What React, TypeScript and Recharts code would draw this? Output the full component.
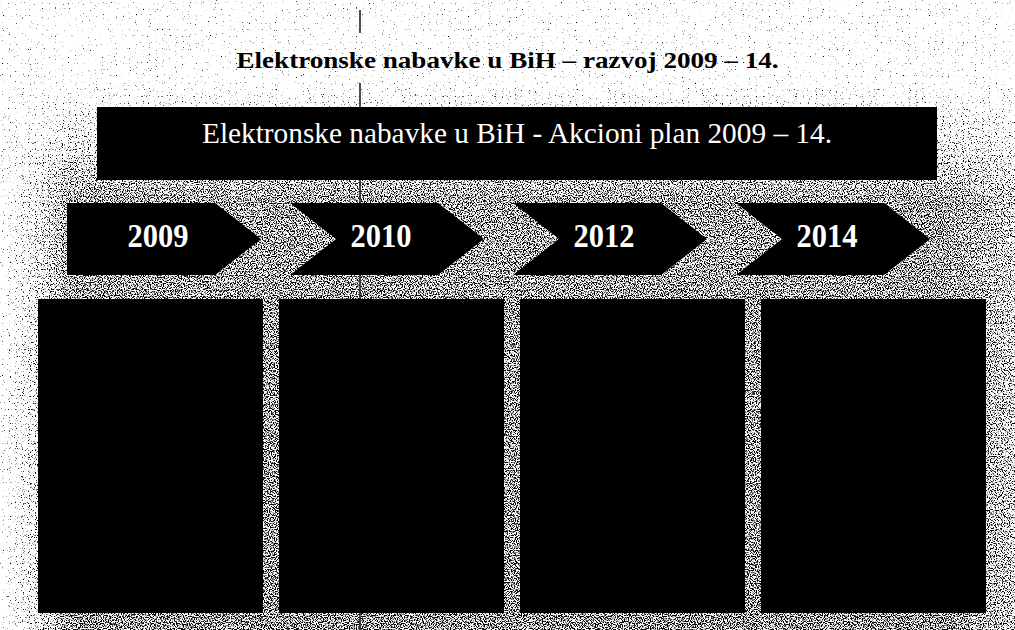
import { ComposedChart, Bar, XAxis, YAxis, ReferenceArea, ReferenceLine } from 'recharts';

// stages of the action plan, left to right
const years = ['2009', '2010', '2012', '2014'];
const chartTitle = 'Elektronske nabavke u BiH – razvoj 2009 – 14.';
const bannerText = 'Elektronske nabavke u BiH - Akcioni plan 2009 – 14.';

// layout rows in page pixels (y axis runs top -> bottom)
const ARROW_ROW: [number, number] = [203, 275];
const BOX_ROW: [number, number] = [299, 613];
const BANNER = { x1: 97, x2: 937, y1: 107, y2: 180 };
const TITLE_ROW = { y1: 48, y2: 74 };
// the scanner line running down the page, only visible in the gaps
const scanGaps: [number, number][] = [[10, 33], [83, 107], [180, 203], [275, 299], [613, 630]];

const W = 1015;
const H = 630;
const SERIF = '"Liberation Serif", "Times New Roman", serif';

const data = years.map((year) => ({ year, arrow: ARROW_ROW, box: BOX_ROW }));

const Chevron = (props: any) => {
  const { x, y, width, height, index, payload } = props;
  const top = Math.min(y, y + height);
  const h = Math.abs(height);
  const tip = 46;
  const mid = top + h / 2;
  const right = x + width;
  const pts: number[][] = [
    [x, top],
    [right - tip, top],
    [right, mid],
    [right - tip, top + h],
    [x, top + h],
  ];
  if (index > 0) pts.push([x + tip, mid]);
  return (
    <g>
      <polygon points={pts.map((p) => p.join(',')).join(' ')} fill="#000" />
      <text
        x={x + width / 2 - 6}
        y={mid + 8}
        textAnchor="middle"
        fill="#fff"
        fontFamily={SERIF}
        fontWeight="bold"
        fontSize={33}
        textLength={61}
        lengthAdjust="spacingAndGlyphs"
      >
        {payload.year}
      </text>
    </g>
  );
};

const Box = (props: any) => {
  const { x, y, width, height } = props;
  const top = Math.min(y, y + height);
  return <rect x={x} y={top} width={width} height={Math.abs(height)} fill="#000" />;
};

const AreaText = (props: any) => {
  const { viewBox, text, size, weight, length, color, dy } = props;
  if (!viewBox) return null;
  return (
    <text
      x={viewBox.x + viewBox.width / 2}
      y={viewBox.y + dy}
      textAnchor="middle"
      fill={color}
      fontFamily={SERIF}
      fontWeight={weight}
      fontSize={size}
      textLength={length}
      lengthAdjust="spacingAndGlyphs"
    >
      {text}
    </text>
  );
};

// scanned-paper grain behind the diagram
const Grain = () => (
  <svg width={W} height={H} style={{ position: 'absolute', left: 0, top: 0 }}>
    <defs>
      <filter id="grain" x="0" y="0" width={W} height={H} filterUnits="userSpaceOnUse" colorInterpolationFilters="sRGB">
        <feTurbulence type="fractalNoise" baseFrequency="0.85" numOctaves={1} seed={7} result="noise" />
        <feColorMatrix in="noise" type="matrix" values="0 0 0 0 0  0 0 0 0 0  0 0 0 0 0  1 0 0 0 0" result="n" />
        <feComposite in="SourceGraphic" in2="n" operator="arithmetic" k1={0} k2={8} k3={8} k4={-8} result="c" />
        <feColorMatrix in="c" type="matrix" values="0 0 0 0 0  0 0 0 0 0  0 0 0 0 0  0 0 0 1 0" />
      </filter>
      <linearGradient id="vfade" x1="0" y1="0" x2="0" y2="1">
        <stop offset="0" stopColor="#fff" stopOpacity={0} />
        <stop offset="0.22" stopColor="#fff" stopOpacity={0.3} />
        <stop offset="1" stopColor="#fff" stopOpacity={0.32} />
      </linearGradient>
      <linearGradient id="hfade" x1="0" y1="0" x2="1" y2="0">
        <stop offset="0" stopColor="#fff" stopOpacity={0} />
        <stop offset="0.035" stopColor="#fff" stopOpacity={0.5} />
        <stop offset="0.07" stopColor="#fff" stopOpacity={1} />
        <stop offset="0.93" stopColor="#fff" stopOpacity={1} />
        <stop offset="1" stopColor="#fff" stopOpacity={0.75} />
      </linearGradient>
      <mask id="hmask">
        <rect x={0} y={0} width={W} height={H} fill="url(#hfade)" />
      </mask>
    </defs>
    <rect x={0} y={0} width={W} height={H} fill="#fff" />
    <g filter="url(#grain)">
      <rect x={0} y={0} width={W} height={H} fill="#fff" fillOpacity={0.33} />
      <rect x={0} y={80} width={W} height={H - 80} fill="url(#vfade)" mask="url(#hmask)" />
    </g>
  </svg>
);

export default function App() {
  return (
    <div style={{ position: 'absolute', left: 0, top: 0, width: W, height: H }}>
      <Grain />
      <div style={{ position: 'absolute', left: 0, top: 0 }}>
        <ComposedChart width={W} height={H} data={data} margin={{ top: 0, right: 0, bottom: 0, left: 0 }}>
          <XAxis xAxisId="box" dataKey="year" type="category" hide padding={{ left: 30, right: 21 }} />
          <XAxis xAxisId="arrow" dataKey="year" type="category" hide padding={{ left: 52, right: 71 }} />
          <XAxis xAxisId="px" dataKey={() => 0} type="number" domain={[0, W]} hide allowDataOverflow />
          <YAxis type="number" domain={[0, H]} reversed hide allowDataOverflow />

          {scanGaps.map(([a, b]) => (
            <ReferenceLine
              key={a}
              xAxisId="px"
              segment={[{ x: 360, y: a }, { x: 360, y: b }]}
              stroke="#222"
              strokeWidth={1.6}
              ifOverflow="visible"
            />
          ))}

          <ReferenceArea
            xAxisId="px"
            x1={0}
            x2={W}
            y1={TITLE_ROW.y1}
            y2={TITLE_ROW.y2}
            fill="none"
            stroke="none"
            ifOverflow="visible"
            label={<AreaText text={chartTitle} size={24} weight="bold" length={542} color="#000" dy={20} />}
          />
          <ReferenceArea
            xAxisId="px"
            x1={BANNER.x1}
            x2={BANNER.x2}
            y1={BANNER.y1}
            y2={BANNER.y2}
            fill="#000"
            fillOpacity={1}
            stroke="none"
            ifOverflow="visible"
            label={<AreaText text={bannerText} size={30} weight="normal" length={630} color="#fff" dy={36} />}
          />

          <Bar xAxisId="arrow" dataKey="arrow" barSize={194} shape={<Chevron />} isAnimationActive={false} />
          <Bar xAxisId="box" dataKey="box" barSize={225} shape={<Box />} isAnimationActive={false} />
        </ComposedChart>
      </div>
    </div>
  );
}
